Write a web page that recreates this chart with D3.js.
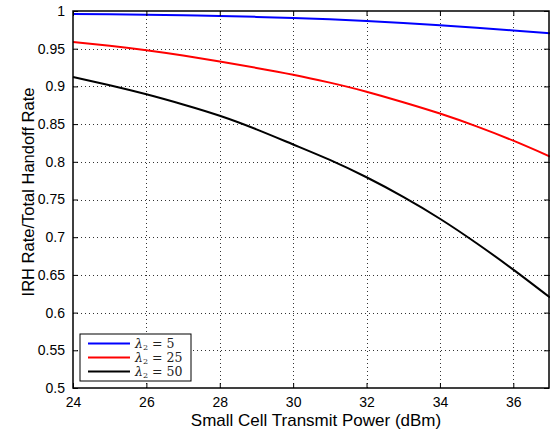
<!DOCTYPE html>
<html>
<head>
<meta charset="utf-8">
<style>
  body { margin: 0; background: #fff; }
  svg { display: block; font-family: "Liberation Sans", Arial, sans-serif; }
</style>
</head>
<body>
<div id="chart"></div>
<script src="https://d3js.org/d3.v7.min.js"></script>
<script>
  const power = [24, 25, 26, 27, 28, 29, 30, 31, 32, 33, 34, 35, 36, 37];
  const lambda5 = [0.996, 0.9956, 0.995, 0.9942, 0.9933, 0.9922, 0.9908, 0.989, 0.9868, 0.9841, 0.981, 0.9778, 0.9743, 0.9705];
  const lambda25 = [0.959, 0.954, 0.948, 0.941, 0.933, 0.9245, 0.9155, 0.905, 0.893, 0.879, 0.864, 0.847, 0.828, 0.807];
  const lambda50 = [0.9125, 0.9015, 0.8895, 0.876, 0.861, 0.843, 0.823, 0.8025, 0.7795, 0.7535, 0.7245, 0.692, 0.657, 0.620];
  const seriesNames = ["5", "25", "50"];
  const colors = ["#0000ff", "#ff0000", "#000000"];
  const xTicks = [24, 26, 28, 30, 32, 34, 36];
  const yTicks = [0.5, 0.55, 0.6, 0.65, 0.7, 0.75, 0.8, 0.85, 0.9, 0.95, 1];

  const width = 550, height = 434;
  const margin = {top: 11, right: 0, bottom: 46, left: 73};

  const x = d3.scaleLinear().domain([24, 37]).range([margin.left, width - margin.right]);
  const y = d3.scaleLinear().domain([0.5, 1]).range([height - margin.bottom, margin.top]);

  const svg = d3.select("#chart").append("svg")
      .attr("width", width)
      .attr("height", height);

  // grid
  const grid = svg.append("g")
      .attr("stroke", "#333")
      .attr("stroke-width", 1)
      .attr("stroke-dasharray", "1,3");
  grid.selectAll(".gx")
    .data(xTicks.slice(1))
    .join("line")
      .attr("x1", d => Math.round(x(d)) + 0.5)
      .attr("x2", d => Math.round(x(d)) + 0.5)
      .attr("y1", y(0.5))
      .attr("y2", y(1));
  grid.selectAll(".gy")
    .data(yTicks.slice(1, -1))
    .join("line")
      .attr("y1", d => Math.round(y(d)) + 0.5)
      .attr("y2", d => Math.round(y(d)) + 0.5)
      .attr("x1", x(24))
      .attr("x2", x(37));

  // lines
  const series = [lambda5, lambda25, lambda50];
  const line = d3.line()
      .x((d, i) => x(power[i]))
      .y(d => y(d))
      .curve(d3.curveNatural);
  svg.append("g")
    .selectAll("path")
    .data(series)
    .join("path")
      .attr("fill", "none")
      .attr("stroke", (d, i) => colors[i])
      .attr("stroke-width", 2)
      .attr("d", line);

  // axes (box with inward ticks)
  const xAxisB = d3.axisBottom(x).tickValues(xTicks).tickSize(-5).tickPadding(9).tickFormat(d3.format("d"));
  const xAxisT = d3.axisTop(x).tickValues(xTicks).tickSize(-5).tickFormat("");
  const yAxisL = d3.axisLeft(y).tickValues(yTicks).tickSize(-5).tickPadding(8).tickFormat(d => d === 1 ? "1" : d3.format("")(+d.toFixed(2)));
  const yAxisR = d3.axisRight(y).tickValues(yTicks).tickSize(-5).tickFormat("");

  function style(g) {
    g.select(".domain").remove();
    g.selectAll(".tick line").attr("stroke", "#000");
    g.selectAll("text").attr("fill", "#000").attr("font-size", 14);
  }
  svg.append("g").attr("transform", `translate(0,${y(0.5)})`).call(xAxisB).call(style);
  svg.append("g").attr("transform", `translate(0,${y(1)})`).call(xAxisT).call(style);
  svg.append("g").attr("transform", `translate(${x(24)},0)`).call(yAxisL).call(style);
  svg.append("g").attr("transform", `translate(${x(37) - 1},0)`).call(yAxisR).call(style);

  svg.append("rect")
      .attr("x", x(24))
      .attr("y", y(1))
      .attr("width", x(37) - x(24) - 1)
      .attr("height", y(0.5) - y(1))
      .attr("fill", "none")
      .attr("stroke", "#000")
      .attr("stroke-width", 1.5);

  // axis labels
  svg.append("text")
      .attr("x", 316)
      .attr("y", 426)
      .attr("text-anchor", "middle")
      .attr("font-size", 17)
      .text("Small Cell Transmit Power (dBm)");
  svg.append("text")
      .attr("transform", `translate(34,192) rotate(-90)`)
      .attr("text-anchor", "middle")
      .attr("font-size", 16.5)
      .text("IRH Rate/Total Handoff Rate");

  // legend
  const legend = svg.append("g").attr("transform", "translate(80,334)");
  legend.append("rect")
      .attr("width", 111)
      .attr("height", 47)
      .attr("fill", "#fff")
      .attr("stroke", "#000")
      .attr("stroke-width", 1);
  const item = legend.selectAll(".item")
    .data(seriesNames)
    .join("g")
      .attr("transform", (d, i) => `translate(0,${9.5 + i * 14})`);
  item.append("line")
      .attr("x1", 8).attr("x2", 50)
      .attr("stroke", (d, i) => colors[i])
      .attr("stroke-width", 2);
  const lbl = item.append("text")
      .attr("x", 55)
      .attr("y", 4.5)
      .attr("font-family", "'DejaVu Serif', 'Liberation Serif', serif")
      .attr("font-size", 12.5)
      .attr("fill", "#222");
  lbl.append("tspan").attr("font-style", "italic").text("λ");
  lbl.append("tspan").attr("font-size", 8).attr("dy", 2).text("2");
  lbl.append("tspan").attr("dy", -2).text(d => " = " + d);
</script>
</body>
</html>
